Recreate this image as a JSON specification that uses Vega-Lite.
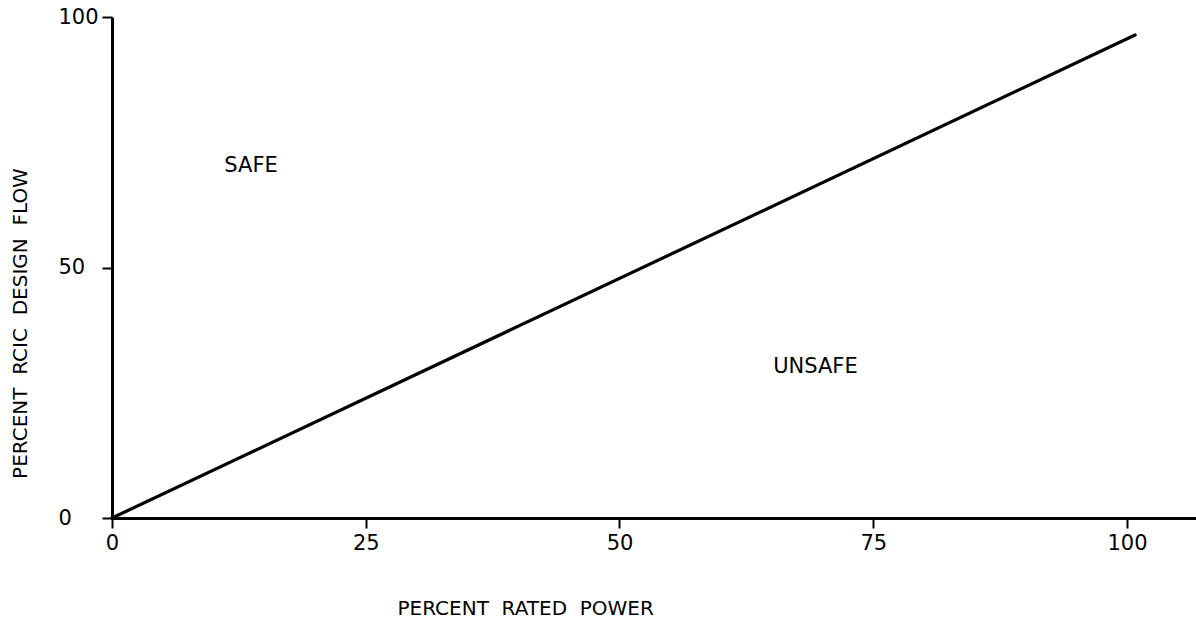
{
  "$schema": "https://vega.github.io/schema/vega-lite/v6.json",
  "width": 1084,
  "height": 501,
  "autosize": "none",
  "padding": {"left": 112, "top": 17, "right": 0, "bottom": 105},
  "background": "white",
  "config": {
    "view": {"stroke": null},
    "font": "DejaVu Sans",
    "axis": {"grid": false, "domainColor": "black", "domainWidth": 3, "tickColor": "black", "tickWidth": 2, "tickSize": 10, "labelColor": "black", "labelFont": "DejaVu Sans", "labelFontSize": 21, "titleColor": "black", "titleFont": "DejaVu Sans", "titleFontSize": 20, "titleFontWeight": "normal"}
  },
  "datasets": {
    "line": [{"power": 0, "flow": 0}, {"power": 100.8, "flow": 96.4}],
    "labels": [{"power": 13.7, "flow": 70.2, "label": "SAFE"}, {"power": 69.3, "flow": 30.2, "label": "UNSAFE"}]
  },
  "layer": [
    {
      "data": {"name": "line"},
      "mark": {"type": "line", "color": "black", "strokeWidth": 3.2, "strokeCap": "round", "clip": false},
      "encoding": {
        "x": {"field": "power", "type": "quantitative", "scale": {"domain": [0, 106.8], "nice": false, "zero": false},
          "axis": {"values": [0, 25, 50, 75, 100], "title": "PERCENT\u00a0\u00a0RATED\u00a0\u00a0POWER", "labelPadding": 4, "labelFlush": false, "titleAnchor": "start", "titleX": 285, "titleY": 90, "titleAlign": "left", "titleBaseline": "middle", "domainCap": "butt"}},
        "y": {"field": "flow", "type": "quantitative", "scale": {"domain": [0, 100], "nice": false},
          "axis": {"values": [0, 50, 100], "title": "PERCENT\u00a0\u00a0RCIC\u00a0\u00a0DESIGN\u00a0\u00a0FLOW", "labelAlign": "left", "labelPadding": 44, "labelFlush": false, "titleX": -92, "titleY": 306, "titleAnchor": "middle", "titleAlign": "center", "titleBaseline": "middle", "titleAngle": -90}}
      }
    },
    {
      "data": {"name": "labels"},
      "mark": {"type": "text", "color": "black", "font": "DejaVu Sans", "fontSize": 21, "align": "center", "baseline": "middle"},
      "encoding": {
        "x": {"field": "power", "type": "quantitative"},
        "y": {"field": "flow", "type": "quantitative"},
        "text": {"field": "label", "type": "nominal"}
      }
    }
  ]
}
